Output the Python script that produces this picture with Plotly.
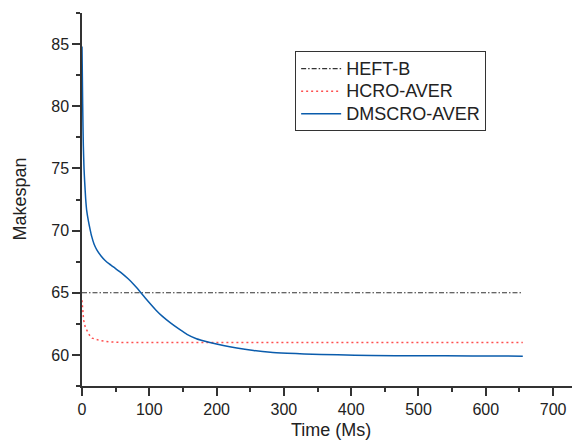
import plotly.graph_objects as go

# HEFT-B (constant)
heft_t = [0, 655]
heft_v = [65.0, 65.0]

# HCRO-AVER
hcro_t = [0, 1, 2.4, 5, 7.4, 11, 15, 20, 27, 40, 60, 100, 200, 400, 655]
hcro_v = [64.4, 63.5, 62.8, 62.2, 61.9, 61.6, 61.35, 61.25, 61.15, 61.05, 61.0, 61.0, 61.0, 61.0, 61.0]

# DMSCRO-AVER
dms_t = [0, 0.5, 1, 1.5, 2, 3, 4, 5.4, 7, 9.4, 12, 14.3, 18, 22, 28, 34, 41, 49, 58, 69, 78, 86, 94,
         110, 120, 131, 145, 156, 170, 190, 210, 230, 255, 280, 305, 330, 380, 430, 500, 580, 655]
dms_v = [84.8, 82.5, 80.2, 78.3, 76.8, 75.0, 73.9, 72.6, 71.6, 70.8, 70.1, 69.55, 68.9, 68.45, 67.98, 67.62,
         67.3, 66.98, 66.62, 66.1, 65.6, 65.1, 64.58, 63.6, 63.08, 62.6, 62.05, 61.65, 61.3, 61.0,
         60.75, 60.55, 60.36, 60.22, 60.14, 60.08, 60.01, 59.95, 59.93, 59.92, 59.9]

series_names = ["HEFT-B", "HCRO-AVER", "DMSCRO-AVER"]

x_ticks = [0, 100, 200, 300, 400, 500, 600, 700]
x_minor = [50, 150, 250, 350, 450, 550, 650]
y_ticks = [60, 65, 70, 75, 80, 85]
y_minor = [57.5, 62.5, 67.5, 72.5, 77.5, 82.5, 87.5]

font_family = "Arial, Liberation Sans, sans-serif"
txt = "#222222"
axc = "#333333"


def leg(name):
    return "<span style='font-size:18px'>" + name + "</span>"


fig = go.Figure()
fig.add_trace(go.Scatter(x=heft_t, y=heft_v, mode="lines", name=leg(series_names[0]),
                         line=dict(color="#333333", width=1.1, dash="5px,2px,1.5px,2px")))
fig.add_trace(go.Scatter(x=hcro_t, y=hcro_v, mode="lines", name=leg(series_names[1]),
                         line=dict(color="#ff4f4f", width=1.5, dash="2px,3px")))
fig.add_trace(go.Scatter(x=dms_t, y=dms_v, mode="lines", name=leg(series_names[2]),
                         line=dict(color="#0a5cac", width=1.5, shape="spline", smoothing=0.5)))

axis_common = dict(showgrid=False, zeroline=False, showline=True, linecolor=axc,
                   linewidth=1.5, ticks="outside", ticklen=8, tickwidth=1.5, tickcolor=axc,
                   tickfont=dict(size=16, color=txt, family=font_family),
                   mirror=False, automargin=False)

fig.update_xaxes(range=[0, 740], tickvals=x_ticks,
                 minor=dict(tickvals=x_minor, ticklen=4, tickwidth=1.5, tickcolor=axc, ticks="outside"),
                 **axis_common)
fig.update_yaxes(range=[57.5, 87.5], tickvals=y_ticks,
                 minor=dict(tickvals=y_minor, ticklen=4, tickwidth=1.5, tickcolor=axc, ticks="outside"),
                 **axis_common)

fig.add_annotation(text="Time (Ms)", xref="paper", yref="paper", x=0.5, y=0,
                   xanchor="center", yanchor="top", yshift=-32, showarrow=False,
                   font=dict(size=18, color=txt, family=font_family))
fig.add_annotation(text="Makespan", xref="paper", yref="paper", x=0, y=0.5,
                   xanchor="center", yanchor="middle", xshift=-63, textangle=-90, showarrow=False,
                   font=dict(size=18, color=txt, family=font_family))

# page body has an 8px margin: shrink the figure so the plot lands where the reference has it
fig.update_layout(
    width=572, height=433,
    margin=dict(l=74, r=0, t=5, b=55),
    paper_bgcolor="white", plot_bgcolor="white",
    font=dict(family=font_family, color=txt),
    showlegend=True,
    legend=dict(x=0.428, y=0.897, xanchor="left", yanchor="top",
                bgcolor="white", bordercolor=axc, borderwidth=1,
                font=dict(size=15, family=font_family, color=txt),
                tracegroupgap=0, itemwidth=40),
)

fig.write_html("out.html")
